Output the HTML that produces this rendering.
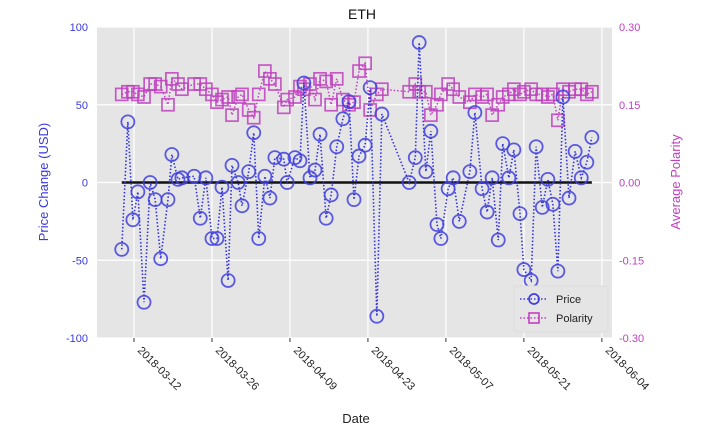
<!DOCTYPE html>
<html><head><meta charset="utf-8"><style>
body{margin:0;background:#fff;width:725px;height:434px;overflow:hidden;font-family:"Liberation Sans","DejaVu Sans",sans-serif}
</style></head><body>
<svg id="chart" width="725" height="434" xmlns="http://www.w3.org/2000/svg"></svg>
<script>
const days=[4.8,5.9,6.8,7.7,8.8,9.9,10.8,11.8,13.1,13.8,14.9,15.6,17.8,18.9,19.9,21.0,21.9,22.8,23.9,24.6,25.7,26.4,27.6,28.5,29.4,30.5,31.4,32.3,33.9,34.5,35.9,36.8,37.5,38.6,39.5,40.4,41.5,42.4,43.4,44.5,45.6,46.5,47.4,48.5,49.4,50.6,51.5,56.4,57.5,58.2,59.4,60.3,61.4,62.1,63.4,64.3,65.4,67.3,68.2,69.5,70.4,71.3,72.4,73.2,74.3,75.2,76.3,77.0,78.3,79.2,80.3,81.3,82.2,83.1,84.0,85.1,86.2,87.3,88.3,89.2];
const price=[-43,39,-24,-6,-77,0,-11,-49,-11,18,2,3,4,-23,3,-36,-36,-3,-63,11,0,-15,7,32,-36,4,-10,16,15,0,16,14,64,3,8,31,-23,-8,23,41,52,-11,17,24,61,-86,44,0,16,90,7,33,-27,-36,-4,3,-25,7,45,-4,-19,3,-37,25,3,21,-20,-56,-63,23,-16,2,-14,-57,55,-10,20,3,13,29];
const polarity=[.17,.175,.175,.17,.165,.19,.19,.185,.15,.2,.19,.18,.19,.19,.18,.17,.155,.16,.165,.13,.165,.17,.14,.125,.17,.215,.2,.19,.145,.16,.165,.185,.18,.19,.16,.2,.195,.15,.2,.16,.15,.155,.215,.23,.14,.17,.18,.175,.19,.175,.175,.13,.15,.17,.19,.18,.165,.155,.17,.165,.17,.13,.15,.165,.17,.18,.17,.175,.18,.17,.17,.165,.17,.12,.18,.175,.18,.18,.17,.175];
const leftTicks=[100,50,0,-50,-100];
const rightTicks=["0.30","0.15","0.00","-0.15","-0.30"];
const dateTicks=[[7,"2018-03-12"],[21,"2018-03-26"],[35,"2018-04-09"],[49,"2018-04-23"],[63,"2018-05-07"],[77,"2018-05-21"],[91,"2018-06-04"]];
const X0=97,X1=612,Y0=27,Y1=338;
const xs=d=>95+d*5.57;
const yL=v=>Y0+(100-v)/200*(Y1-Y0);
const yR=v=>Y0+(0.3-v)/0.6*(Y1-Y0);
const svg=document.getElementById('chart');
const NS='http://www.w3.org/2000/svg';
function mk(tag,attrs,txt){const e=document.createElementNS(NS,tag);for(const k in attrs)e.setAttribute(k,attrs[k]);if(txt!==undefined)e.textContent=txt;svg.appendChild(e);return e;}
let e;
e=mk('rect',{x:X0,y:Y0,width:X1-X0,height:Y1-Y0,fill:'#e5e5e5'});


leftTicks.forEach((v,i)=>{
 const y=yL(v);
 e=mk('line',{x1:X0,x2:X1,y1:y,y2:y,stroke:'#fff','stroke-width':1.2});
 
 
 e=mk('text',{x:88,y:y+4,'text-anchor':'end','font-size':11,fill:'#3a3ae0'},String(v));
 
 
 e=mk('text',{x:619,y:y+4,'font-size':11,fill:'#c040c0'},rightTicks[i]);
 
 
});
dateTicks.forEach(t=>{
 const x=xs(t[0]);
 e=mk('line',{x1:x,x2:x,y1:Y0,y2:Y1,stroke:'#fff','stroke-width':1.2});
 
 
 e=mk('line',{x1:x,x2:x,y1:Y1,y2:Y1+4,stroke:'#333'});
 
 
 e=mk('text',{x:x+3,y:Y1+13,'font-size':11,fill:'#222',transform:`rotate(45 ${x+3} ${Y1+13})`},t[1]);
 
 
});
e=mk('line',{x1:xs(days[0]),x2:xs(days[days.length-1]),y1:yL(0),y2:yL(0),stroke:'#111','stroke-width':2.5});


e=mk('polyline',{points:days.map((d,i)=>xs(d)+','+yR(polarity[i])).join(' '),fill:'none',stroke:'#c040c0','stroke-width':1.5,'stroke-dasharray':'1.5 2'});


days.forEach((d,i)=>{
 e=mk('rect',{x:xs(d)-6,y:yR(polarity[i])-6,width:12,height:12,fill:'none',stroke:'#c040c0','stroke-width':1.7,opacity:.85});
 
 
});
e=mk('polyline',{points:days.map((d,i)=>xs(d)+','+yL(price[i])).join(' '),fill:'none',stroke:'#3030e0','stroke-width':1.6,'stroke-dasharray':'1.5 2'});


days.forEach((d,i)=>{
 e=mk('circle',{cx:xs(d),cy:yL(price[i]),r:6.5,fill:'none',stroke:'#4040e0','stroke-width':1.8,opacity:.85});
 
 
});
e=mk('rect',{x:514,y:286,width:94,height:46,fill:'#e5e5e5',stroke:'#ddd',rx:3});


e=mk('line',{x1:520,x2:548,y1:299,y2:299,stroke:'#3a3ae0','stroke-width':1.5,'stroke-dasharray':'1.5 2'});


e=mk('circle',{cx:534,cy:299,r:5,fill:'none',stroke:'#4040e0','stroke-width':1.7});


e=mk('text',{x:556,y:303,'font-size':11,fill:'#222'},'Price');


e=mk('line',{x1:520,x2:548,y1:318,y2:318,stroke:'#c040c0','stroke-width':1.5,'stroke-dasharray':'1.5 2'});


e=mk('rect',{x:529,y:313,width:10,height:10,fill:'none',stroke:'#c040c0','stroke-width':1.6});


e=mk('text',{x:556,y:322,'font-size':11,fill:'#222'},'Polarity');


e=mk('text',{x:362,y:19,'text-anchor':'middle','font-size':14,fill:'#111'},'ETH');


e=mk('text',{x:356,y:423,'text-anchor':'middle','font-size':13,fill:'#222'},'Date');


e=mk('text',{x:48,y:182,'text-anchor':'middle','font-size':13,fill:'#3a3ae0',transform:'rotate(-90 48 182)'},'Price Change (USD)');


e=mk('text',{x:680,y:182,'text-anchor':'middle','font-size':13,fill:'#c040c0',transform:'rotate(-90 680 182)'},'Average Polarity');


</script>
</body></html>
